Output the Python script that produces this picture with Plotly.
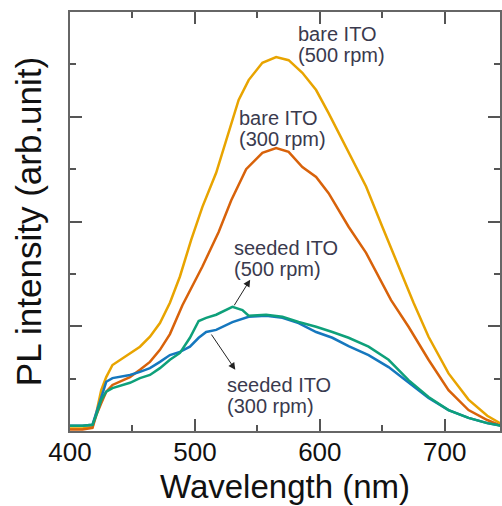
import plotly.graph_objects as go

# Wavelength (nm) and PL intensity (arb. unit)
wl_bare500 = [400, 410, 418, 421, 425, 429, 434, 440, 448, 456, 464, 472, 480, 488, 497, 506, 517, 527, 535, 543, 554, 565, 575, 586, 597, 607, 623, 637, 650, 663, 675, 687, 703, 719, 734, 745]
pl_bare500 = [0.05, 0.05, 0.08, 0.34, 0.78, 1.03, 1.26, 1.36, 1.49, 1.61, 1.80, 2.06, 2.45, 2.95, 3.65, 4.28, 4.93, 5.69, 6.32, 6.70, 7.03, 7.14, 7.08, 6.84, 6.51, 6.07, 5.31, 4.67, 3.90, 3.14, 2.45, 1.80, 1.10, 0.60, 0.29, 0.14]

wl_bare300 = [400, 410, 418, 421, 425, 429, 434, 440, 448, 456, 464, 472, 480, 490, 506, 519, 529, 541, 554, 565, 575, 586, 597, 607, 623, 637, 650, 657, 671, 687, 703, 719, 734, 745]
pl_bare300 = [0.03, 0.03, 0.06, 0.30, 0.53, 0.75, 0.88, 0.94, 1.03, 1.17, 1.32, 1.55, 1.85, 2.40, 3.14, 3.80, 4.40, 5.00, 5.31, 5.40, 5.33, 5.04, 4.85, 4.54, 3.90, 3.40, 2.83, 2.50, 1.99, 1.36, 0.78, 0.40, 0.21, 0.10]

wl_seed500 = [400, 410, 418, 421, 425, 429, 434, 440, 448, 456, 464, 472, 480, 488, 496, 503, 509, 517, 530, 538, 543, 557, 570, 583, 597, 610, 623, 639, 655, 671, 687, 703, 719, 734, 745]
pl_seed500 = [0.10, 0.10, 0.12, 0.30, 0.59, 0.75, 0.82, 0.86, 0.92, 1.01, 1.07, 1.20, 1.36, 1.49, 1.78, 2.10, 2.16, 2.22, 2.37, 2.31, 2.20, 2.22, 2.18, 2.08, 1.99, 1.89, 1.78, 1.61, 1.36, 0.97, 0.65, 0.40, 0.25, 0.15, 0.10]

wl_seed300 = [400, 410, 418, 421, 425, 429, 434, 440, 448, 456, 464, 472, 480, 488, 496, 503, 509, 517, 530, 543, 557, 570, 583, 597, 610, 623, 639, 655, 671, 687, 703, 719, 734, 745]
pl_seed300 = [0.10, 0.10, 0.12, 0.34, 0.65, 0.94, 1.01, 1.03, 1.07, 1.13, 1.20, 1.32, 1.45, 1.51, 1.61, 1.78, 1.89, 1.93, 2.08, 2.18, 2.20, 2.16, 2.06, 1.89, 1.78, 1.62, 1.45, 1.22, 0.92, 0.63, 0.40, 0.25, 0.15, 0.10]

series = [
    ("bare ITO (500 rpm)", wl_bare500, pl_bare500, "#E8A400"),
    ("bare ITO (300 rpm)", wl_bare300, pl_bare300, "#D8620A"),
    ("seeded ITO (300 rpm)", wl_seed300, pl_seed300, "#1577BE"),
    ("seeded ITO (500 rpm)", wl_seed500, pl_seed500, "#0EA07A"),
]

fig = go.Figure()
for name, x, y, c in series:
    fig.add_trace(go.Scatter(x=x, y=y, mode="lines", name=name,
                             line=dict(color=c, width=2.5), showlegend=False))

FONT = "Liberation Sans, Arial, sans-serif"
txt = dict(family=FONT, size=20, color="#3a3a4e")
# (line text, left x in nm, y in data units)
labels = [
    ("bare ITO", 580.8, 7.58), ("(500 rpm)", 580.8, 7.18),
    ("bare ITO", 533.8, 5.98), ("(300 rpm)", 533.8, 5.58),
    ("seeded ITO", 529.8, 3.49), ("(500 rpm)", 529.8, 3.09),
    ("seeded ITO", 524.2, 0.88), ("(300 rpm)", 524.2, 0.48),
]
for t, x, y in labels:
    fig.add_annotation(x=x, y=y, text=t, showarrow=False, font=txt,
                       xanchor="left", yanchor="middle")

arrows = [((544.2, 2.89), (530.7, 2.37)), ((532.3, 1.17), (512.4, 1.87))]
for (hx, hy), (tx, ty) in arrows:
    fig.add_annotation(x=hx, y=hy, ax=tx, ay=ty, axref="x", ayref="y", text="",
                       showarrow=True, arrowhead=2, arrowsize=1.4, arrowwidth=1,
                       arrowcolor="#222222")

axis_common = dict(showline=True, linecolor="#666666", linewidth=1.5, mirror="ticks",
                   ticks="inside", tickcolor="#555555", tickwidth=1.5, ticklen=12,
                   showgrid=False, zeroline=False)

fig.update_xaxes(range=[400, 744.2], dtick=100, tick0=400, ticklabelstandoff=-3,
                 minor=dict(dtick=50, ticks="inside", ticklen=6, tickcolor="#555555", tickwidth=1.5),
                 tickfont=dict(family=FONT, size=26, color="#111111"),
                 title=dict(text="Wavelength (nm)", standoff=9,
                            font=dict(family=FONT, size=33, color="#111111")),
                 **axis_common)
fig.update_yaxes(range=[0, 8], dtick=2, tick0=0, showticklabels=False,
                 minor=dict(dtick=1, ticks="inside", ticklen=6, tickcolor="#555555", tickwidth=1.5),
                 title=dict(text="PL intensity (arb.unit)", standoff=16,
                            font=dict(family=FONT, size=35, color="#111111")),
                 **axis_common)

fig.update_layout(width=502, height=506, margin=dict(l=70, r=0, t=12, b=75),
                  plot_bgcolor="white", paper_bgcolor="white")

fig.write_html("out.html")
